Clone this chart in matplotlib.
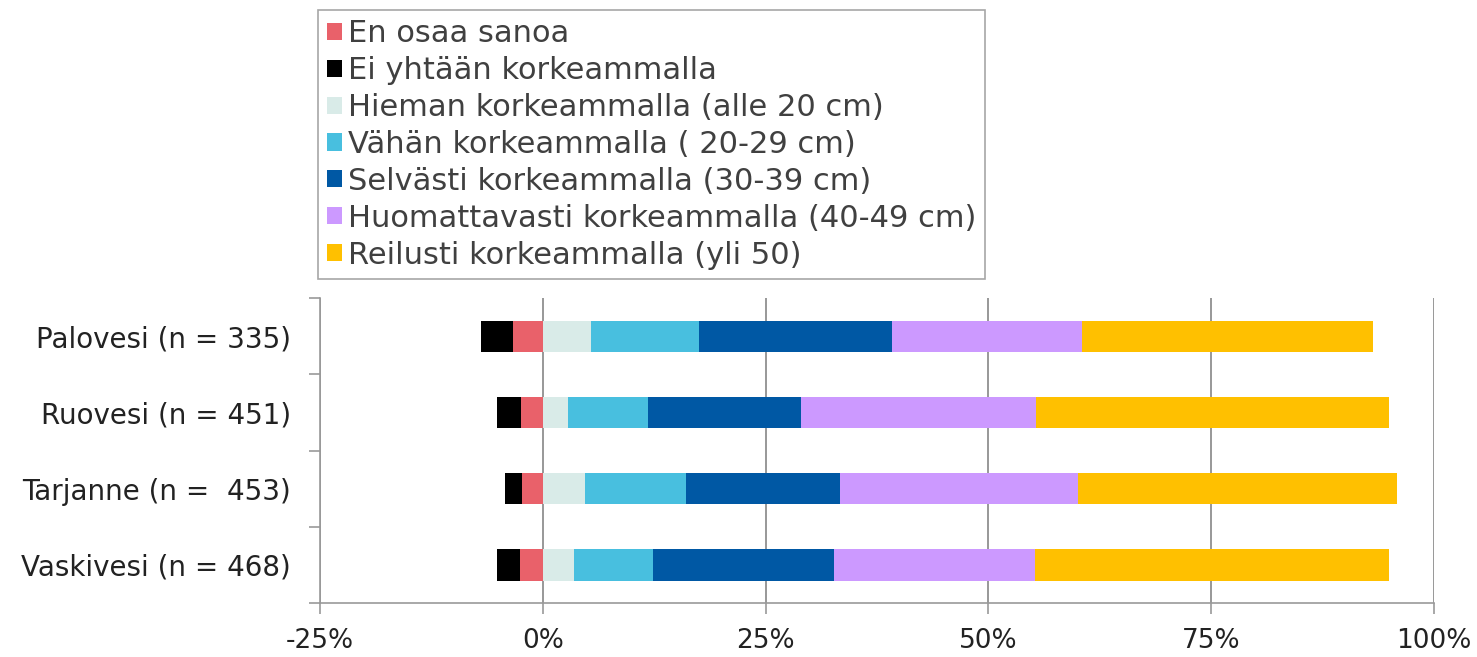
import numpy as np
import matplotlib.pyplot as plt

# Data (percent)
lakes = ['Palovesi (n = 335)', 'Ruovesi (n = 451)', 'Tarjanne (n =  453)', 'Vaskivesi (n = 468)']
en_osaa = [3.4, 2.5, 2.3, 2.6]
ei_yhtaan = [3.5, 2.7, 2.0, 2.5]
hieman = [5.4, 2.8, 4.7, 3.5]
vahan = [12.1, 9.0, 11.4, 8.9]
selvasti = [21.7, 17.2, 17.2, 20.3]
huomattavasti = [21.3, 26.3, 26.7, 22.5]
reilusti = [32.7, 39.7, 35.9, 39.8]

labels = ['En osaa sanoa', 'Ei yhtään korkeammalla', 'Hieman korkeammalla (alle 20 cm)',
          'Vähän korkeammalla ( 20-29 cm)', 'Selvästi korkeammalla (30-39 cm)',
          'Huomattavasti korkeammalla (40-49 cm)', 'Reilusti korkeammalla (yli 50)']
colors = ['#E9616A', '#000000', '#D9EBE8', '#48BFDF', '#0058A4', '#CC99FF', '#FFC000']
xticks = [-25, 0, 25, 50, 75, 100]

plt.rcParams['font.family'] = ['DejaVu Sans']

fig = plt.figure(figsize=(14.77, 6.57), dpi=100)
ax = fig.add_axes([0.2167, 0.0822, 0.7542, 0.4642])

y = np.arange(len(lakes))
h = 0.41
handles = {}

# negative side: red next to zero, black further left
neg_left = np.zeros(len(lakes))
for vals, lab, col in [(en_osaa, labels[0], colors[0]), (ei_yhtaan, labels[1], colors[1])]:
    v = np.array(vals)
    neg_left = neg_left - v
    handles[lab] = ax.barh(y, v, left=neg_left, height=h, color=col, zorder=3)

# positive side
pos_left = np.zeros(len(lakes))
for vals, lab, col in zip([hieman, vahan, selvasti, huomattavasti, reilusti], labels[2:], colors[2:]):
    v = np.array(vals)
    handles[lab] = ax.barh(y, v, left=pos_left, height=h, color=col, zorder=3)
    pos_left = pos_left + v

ax.set_xlim(-25, 100)
ax.set_ylim(3.5, -0.5)
ax.set_xticks(xticks)
ax.set_xticklabels([f'{t}%' for t in xticks])
ax.set_yticks(y)
ax.set_yticklabels(lakes)
ax.set_yticks(np.arange(-0.5, 4, 1), minor=True)
ax.tick_params(axis='y', which='major', length=0, pad=21, labelsize=20, labelcolor='#222222')
ax.tick_params(axis='y', which='minor', length=8, color='#999999', width=1.2)
ax.tick_params(axis='x', length=8, color='#999999', width=1.2, labelsize=19,
               labelcolor='#222222', pad=10)

ax.grid(axis='x', color='#909090', linewidth=1.3, zorder=0)
for s in ['top', 'right']:
    ax.spines[s].set_visible(False)
for s in ['left', 'bottom']:
    ax.spines[s].set_color('#999999')
    ax.spines[s].set_linewidth(1.2)

leg = fig.legend([handles[l] for l in labels], labels, loc='upper left',
                 bbox_to_anchor=(0.2153, 0.985), fontsize=22, frameon=True,
                 fancybox=False, edgecolor='#909090', handlelength=0.48,
                 handleheight=0.48, handletextpad=0.2, labelspacing=0.26,
                 borderpad=0.3, borderaxespad=0, labelcolor='#404040')
leg.get_frame().set_linewidth(1.2)

fig.savefig('out.png', dpi=100)
